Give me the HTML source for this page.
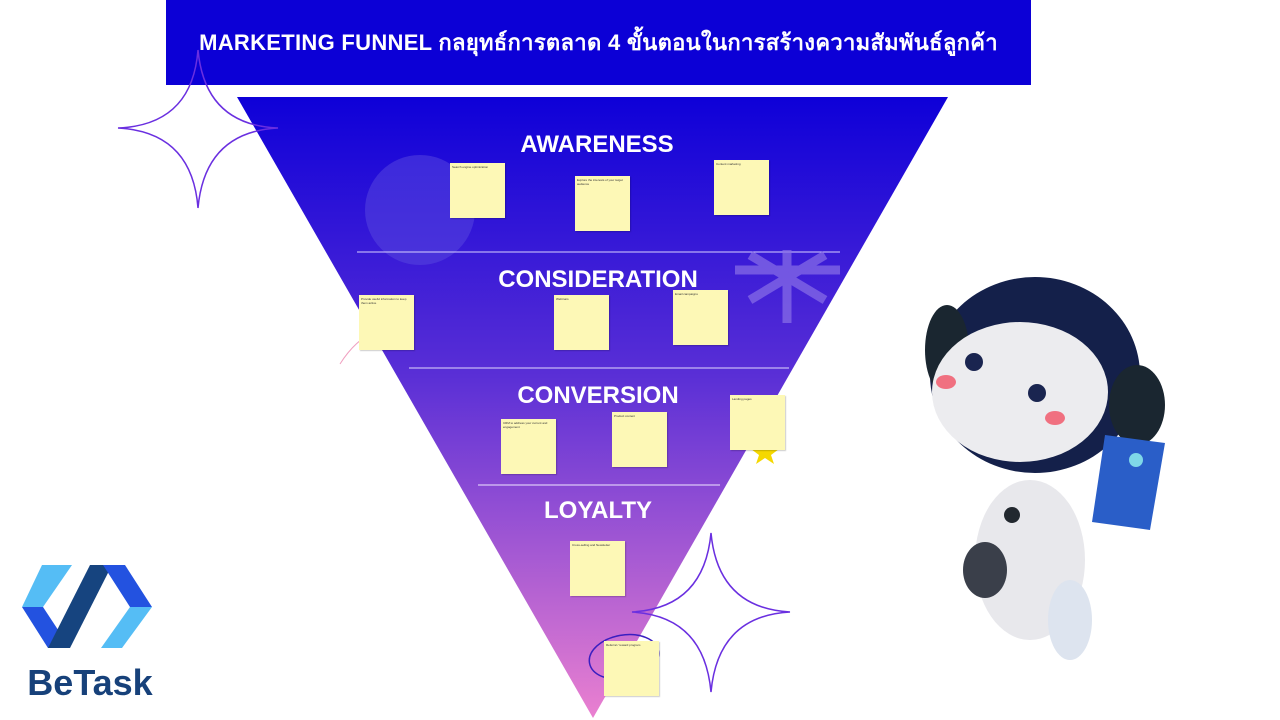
<!DOCTYPE html>
<html><head><meta charset="utf-8"><style>
body{margin:0;width:1280px;height:720px;background:#fff;overflow:hidden;position:relative;font-family:"Liberation Sans","Noto Sans CJK SC",sans-serif}
.banner{position:absolute;left:166px;top:0;width:865px;height:85px;background:#0c00d6;color:#fff;font-weight:bold;font-size:22px;letter-spacing:0.3px;display:flex;align-items:center;justify-content:center}
.lbl{position:absolute;color:#fff;font-weight:bold;font-size:24px;text-align:center;width:400px}
.n{position:absolute;width:55px;height:55px;background:#fdf8b6;box-shadow:1px 1px 1px rgba(0,0,0,.2);font-size:3px;color:#333;padding:2px;box-sizing:border-box}
</style></head><body>
<div class="banner">MARKETING FUNNEL กลยุทธ์การตลาด 4 ขั้นตอนในการสร้างความสัมพันธ์ลูกค้า</div>
<svg width="1280" height="720" style="position:absolute;left:0;top:0">
<defs><linearGradient id="g" x1="0" y1="0" x2="0" y2="1"><stop offset="0" stop-color="#0e00d8"/><stop offset=".45" stop-color="#5a2fd6"/><stop offset="1" stop-color="#ea80d0"/></linearGradient></defs>
<polygon points="237,97 948,97 593,718" fill="url(#g)"/>
<circle cx="420" cy="210" r="55" fill="#5a4ae0" opacity=".5"/>
<line x1="357" y1="252" x2="840" y2="252" stroke="#d8d0ff" stroke-width="1"/>
<line x1="409" y1="368" x2="789" y2="368" stroke="#e0d8ff" stroke-width="1"/>
<line x1="478" y1="485" x2="720" y2="485" stroke="#f0e8ff" stroke-width="1"/>
<g stroke="#8a70e8" stroke-width="9" opacity=".7"><line x1="787" y1="250" x2="787" y2="323"/><line x1="735" y1="270" x2="840" y2="270"/><line x1="750" y1="300" x2="825" y2="255"/><line x1="750" y1="255" x2="825" y2="300"/></g>
<path d="M198,50 Q205,125 278,128 Q205,132 198,208 Q192,132 118,128 Q192,125 198,50Z" fill="none" stroke="#6a2fe0" stroke-width="1.5"/>
<path d="M711,533 Q718,608 790,612 Q718,616 711,692 Q704,616 632,612 Q704,608 711,533Z" fill="none" stroke="#6a2fe0" stroke-width="1.5"/>
<ellipse cx="624" cy="657" rx="35" ry="22" fill="none" stroke="#3a1fc0" stroke-width="1.5" transform="rotate(-10 624 657)"/>
<path d="M340,364 Q355,340 377,330" fill="none" stroke="#f0a0c0" stroke-width="1"/>
<polygon points="765,438 769,448 779,449 771,455 774,464 765,458 756,464 759,455 751,449 761,448" fill="#f5d800"/>
<polygon points="42,565 72,565 43,607 22,607" fill="#55bdf5"/>
<polygon points="22,607 43,607 70,648 48,648" fill="#2352e0"/>
<polygon points="48,648 70,648 112,565 90,565" fill="#16447f"/>
<polygon points="103,565 125,565 152,607 130,607" fill="#2352e0"/>
<polygon points="130,607 152,607 122,648 101,648" fill="#55bdf5"/>
<text x="90" y="695" text-anchor="middle" font-family="Liberation Sans" font-weight="bold" font-size="36" fill="#17417a">BeTask</text>
<ellipse cx="1030" cy="560" rx="55" ry="80" fill="#e8e8ec"/>
<ellipse cx="985" cy="570" rx="22" ry="28" fill="#3a3f4a"/>
<ellipse cx="1070" cy="620" rx="22" ry="40" fill="#dde4ef"/>
<ellipse cx="1035" cy="375" rx="105" ry="98" fill="#14204a"/>
<ellipse cx="947" cy="350" rx="22" ry="45" fill="#1a2630"/>
<ellipse cx="1020" cy="392" rx="88" ry="70" fill="#ececef"/>
<ellipse cx="1137" cy="405" rx="28" ry="40" fill="#1a2630"/>
<circle cx="974" cy="362" r="9" fill="#1a2550"/><circle cx="1037" cy="393" r="9" fill="#1a2550"/>
<ellipse cx="946" cy="382" rx="10" ry="7" fill="#f07080"/><ellipse cx="1055" cy="418" rx="10" ry="7" fill="#f07080"/>
<polygon points="1105,435 1165,443 1150,530 1092,522" fill="#2a5ec8"/>
<circle cx="1136" cy="460" r="7" fill="#7fd8e8"/>
<circle cx="1012" cy="515" r="8" fill="#22282f"/>
</svg>
<div class="lbl" style="left:397px;top:131px">AWARENESS</div>
<div class="lbl" style="left:398px;top:266px">CONSIDERATION</div>
<div class="lbl" style="left:398px;top:382px">CONVERSION</div>
<div class="lbl" style="left:398px;top:497px">LOYALTY</div>
<div class="n" style="left:450px;top:163px">Search engine optimization</div>
<div class="n" style="left:575px;top:176px">Explore the interests of your target audience</div>
<div class="n" style="left:714px;top:160px">Content marketing</div>
<div class="n" style="left:359px;top:295px">Provide useful information to keep them active</div>
<div class="n" style="left:554px;top:295px">Webinars</div>
<div class="n" style="left:673px;top:290px">Email campaigns</div>
<div class="n" style="left:501px;top:419px">CRM to address your current and engagement</div>
<div class="n" style="left:612px;top:412px">Product content</div>
<div class="n" style="left:730px;top:395px">Landing pages</div>
<div class="n" style="left:570px;top:541px">Cross-selling and Newsletter</div>
<div class="n" style="left:604px;top:641px">Referral / reward program</div>
</body></html>
